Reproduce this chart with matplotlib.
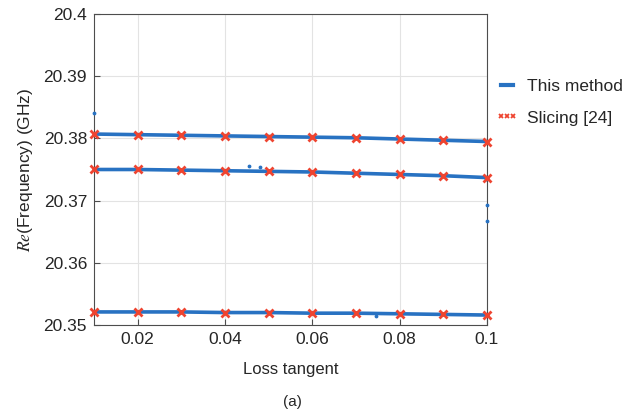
import matplotlib.pyplot as plt
from matplotlib.lines import Line2D

plt.rcParams["font.family"] = ["Liberation Sans", "DejaVu Sans"]
plt.rcParams["mathtext.fontset"] = "stix"

Color = {
    "blue": "#2872C2",
    "red": "#EE4430",
    "grid": "#E3E3E3",
    "axis": "#4D4D4D",
    "text": "#262626",
}

# loss tangent samples (slicing reference points)
loss_tangent = [0.01, 0.02, 0.03, 0.04, 0.05, 0.06, 0.07, 0.08, 0.09, 0.10]

# Re(frequency) in GHz, three modes
mode_high = [20.3807, 20.3806, 20.3805, 20.3804, 20.3803, 20.3802, 20.3801, 20.3799, 20.3797, 20.3795]
mode_mid = [20.3750, 20.3750, 20.3749, 20.3748, 20.3747, 20.3746, 20.3744, 20.3742, 20.3740, 20.3737]
mode_low = [20.3521, 20.3521, 20.3521, 20.3520, 20.3520, 20.3519, 20.3519, 20.3518, 20.3517, 20.3516]

# stray points of this method
stray_x = [0.0101, 0.0455, 0.0480, 0.0745, 0.0998, 0.0999, 0.1000]
stray_y = [20.3841, 20.3756, 20.3754, 20.3514, 20.3734, 20.3693, 20.3668]

xticks = [0.02, 0.04, 0.06, 0.08, 0.1]
xticklabels = ["0.02", "0.04", "0.06", "0.08", "0.1"]
yticks = [20.35, 20.36, 20.37, 20.38, 20.39, 20.40]
yticklabels = ["20.35", "20.36", "20.37", "20.38", "20.39", "20.4"]

fig = plt.figure(figsize=(6.42, 4.18), dpi=100)
ax = fig.add_axes([0.1464, 0.2225, 0.6121, 0.744])

for mode in (mode_high, mode_mid, mode_low):
    ax.plot(loss_tangent, mode, color=Color["blue"], lw=2.6, solid_capstyle="butt", zorder=3)
    ax.plot(loss_tangent, mode, color=Color["red"], lw=0, marker="x",
            markersize=5.5, markeredgewidth=2.0, zorder=4, clip_on=False)
ax.scatter(stray_x, stray_y, s=3, color=Color["blue"], zorder=3, clip_on=False)

ax.set_xlim(0.01, 0.1)
ax.set_ylim(20.35, 20.40)
ax.set_xticks(xticks)
ax.set_xticklabels(xticklabels)
ax.set_yticks(yticks)
ax.set_yticklabels(yticklabels)
ax.tick_params(direction="in", length=4, color=Color["axis"], labelsize=12.5,
               labelcolor=Color["text"], pad=5)
ax.grid(True, color=Color["grid"], lw=0.8)
ax.set_axisbelow(True)
for sp in ax.spines.values():
    sp.set_color(Color["axis"])
    sp.set_linewidth(0.8)

ax.set_xlabel("Loss tangent", fontsize=12, color=Color["text"], labelpad=11)
ax.set_ylabel(r"$Re$(Frequency) (GHz)", fontsize=12.5, color=Color["text"], labelpad=6)
fig.text(0.455, 0.038, "(a)", fontsize=11, color=Color["text"], ha="center", va="center")

handles = [
    Line2D([], [], color=Color["blue"], lw=3),
    Line2D([], [], color=Color["red"], lw=0, marker="x", markersize=3.2, markeredgewidth=1.3),
]
fig.legend(handles, ["This method", "Slicing [24]"], loc="upper left",
           bbox_to_anchor=(0.767, 0.82), frameon=False, fontsize=12.5,
           numpoints=3, handlelength=1.3, handletextpad=0.5, labelspacing=0.95,
           borderpad=0.2, borderaxespad=0.0, labelcolor=Color["text"])

plt.savefig("out.png", dpi=100)
